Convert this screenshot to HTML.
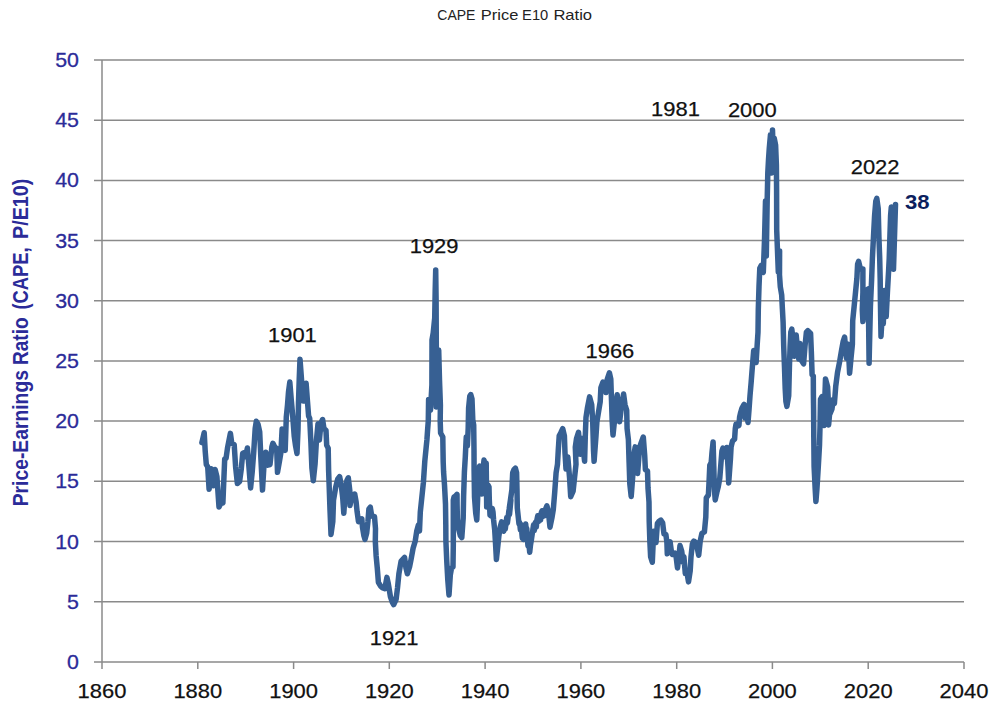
<!DOCTYPE html>
<html><head><meta charset="utf-8"><title>CAPE Price E10 Ratio</title>
<style>
html,body{margin:0;padding:0;background:#fff;}
body{width:1003px;height:706px;overflow:hidden;font-family:"Liberation Sans",sans-serif;}
svg{display:block;font-family:"Liberation Sans",sans-serif;}
</style></head><body>
<svg width="1003" height="706" viewBox="0 0 1003 706">
<rect width="1003" height="706" fill="#fff"/>
<line x1="94" y1="661.9" x2="964" y2="661.9" stroke="#8a8a8a" stroke-width="1.5"/>
<line x1="94" y1="601.7" x2="964" y2="601.7" stroke="#8a8a8a" stroke-width="1.5"/>
<line x1="94" y1="541.5" x2="964" y2="541.5" stroke="#8a8a8a" stroke-width="1.5"/>
<line x1="94" y1="481.3" x2="964" y2="481.3" stroke="#8a8a8a" stroke-width="1.5"/>
<line x1="94" y1="421.1" x2="964" y2="421.1" stroke="#8a8a8a" stroke-width="1.5"/>
<line x1="94" y1="360.9" x2="964" y2="360.9" stroke="#8a8a8a" stroke-width="1.5"/>
<line x1="94" y1="300.8" x2="964" y2="300.8" stroke="#8a8a8a" stroke-width="1.5"/>
<line x1="94" y1="240.6" x2="964" y2="240.6" stroke="#8a8a8a" stroke-width="1.5"/>
<line x1="94" y1="180.4" x2="964" y2="180.4" stroke="#8a8a8a" stroke-width="1.5"/>
<line x1="94" y1="120.2" x2="964" y2="120.2" stroke="#8a8a8a" stroke-width="1.5"/>
<line x1="94" y1="60.0" x2="964" y2="60.0" stroke="#8a8a8a" stroke-width="1.5"/>
<line x1="102" y1="60" x2="102" y2="669" stroke="#8a8a8a" stroke-width="1.5"/>
<line x1="197.8" y1="661.9" x2="197.8" y2="669" stroke="#8a8a8a" stroke-width="1.5"/>
<line x1="293.6" y1="661.9" x2="293.6" y2="669" stroke="#8a8a8a" stroke-width="1.5"/>
<line x1="389.3" y1="661.9" x2="389.3" y2="669" stroke="#8a8a8a" stroke-width="1.5"/>
<line x1="485.1" y1="661.9" x2="485.1" y2="669" stroke="#8a8a8a" stroke-width="1.5"/>
<line x1="580.9" y1="661.9" x2="580.9" y2="669" stroke="#8a8a8a" stroke-width="1.5"/>
<line x1="676.7" y1="661.9" x2="676.7" y2="669" stroke="#8a8a8a" stroke-width="1.5"/>
<line x1="772.4" y1="661.9" x2="772.4" y2="669" stroke="#8a8a8a" stroke-width="1.5"/>
<line x1="868.2" y1="661.9" x2="868.2" y2="669" stroke="#8a8a8a" stroke-width="1.5"/>
<line x1="964.0" y1="661.9" x2="964.0" y2="669" stroke="#8a8a8a" stroke-width="1.5"/>
<text x="67.1" y="668.9" font-size="20.8" fill="#2b2b99" stroke="#2b2b99" stroke-width="0.3" textLength="11.9" lengthAdjust="spacingAndGlyphs">0</text>
<text x="67.1" y="608.7" font-size="20.8" fill="#2b2b99" stroke="#2b2b99" stroke-width="0.3" textLength="11.9" lengthAdjust="spacingAndGlyphs">5</text>
<text x="55.2" y="548.5" font-size="20.8" fill="#2b2b99" stroke="#2b2b99" stroke-width="0.3" textLength="23.8" lengthAdjust="spacingAndGlyphs">10</text>
<text x="55.2" y="488.3" font-size="20.8" fill="#2b2b99" stroke="#2b2b99" stroke-width="0.3" textLength="23.8" lengthAdjust="spacingAndGlyphs">15</text>
<text x="55.2" y="428.1" font-size="20.8" fill="#2b2b99" stroke="#2b2b99" stroke-width="0.3" textLength="23.8" lengthAdjust="spacingAndGlyphs">20</text>
<text x="55.2" y="367.9" font-size="20.8" fill="#2b2b99" stroke="#2b2b99" stroke-width="0.3" textLength="23.8" lengthAdjust="spacingAndGlyphs">25</text>
<text x="55.2" y="307.8" font-size="20.8" fill="#2b2b99" stroke="#2b2b99" stroke-width="0.3" textLength="23.8" lengthAdjust="spacingAndGlyphs">30</text>
<text x="55.2" y="247.6" font-size="20.8" fill="#2b2b99" stroke="#2b2b99" stroke-width="0.3" textLength="23.8" lengthAdjust="spacingAndGlyphs">35</text>
<text x="55.2" y="187.4" font-size="20.8" fill="#2b2b99" stroke="#2b2b99" stroke-width="0.3" textLength="23.8" lengthAdjust="spacingAndGlyphs">40</text>
<text x="55.2" y="127.2" font-size="20.8" fill="#2b2b99" stroke="#2b2b99" stroke-width="0.3" textLength="23.8" lengthAdjust="spacingAndGlyphs">45</text>
<text x="55.2" y="67.0" font-size="20.8" fill="#2b2b99" stroke="#2b2b99" stroke-width="0.3" textLength="23.8" lengthAdjust="spacingAndGlyphs">50</text>
<text x="77.6" y="698.4" font-size="20.6" fill="#111" stroke="#111" stroke-width="0.25" textLength="48.8" lengthAdjust="spacingAndGlyphs">1860</text>
<text x="173.4" y="698.4" font-size="20.6" fill="#111" stroke="#111" stroke-width="0.25" textLength="48.8" lengthAdjust="spacingAndGlyphs">1880</text>
<text x="269.2" y="698.4" font-size="20.6" fill="#111" stroke="#111" stroke-width="0.25" textLength="48.8" lengthAdjust="spacingAndGlyphs">1900</text>
<text x="364.9" y="698.4" font-size="20.6" fill="#111" stroke="#111" stroke-width="0.25" textLength="48.8" lengthAdjust="spacingAndGlyphs">1920</text>
<text x="460.7" y="698.4" font-size="20.6" fill="#111" stroke="#111" stroke-width="0.25" textLength="48.8" lengthAdjust="spacingAndGlyphs">1940</text>
<text x="556.5" y="698.4" font-size="20.6" fill="#111" stroke="#111" stroke-width="0.25" textLength="48.8" lengthAdjust="spacingAndGlyphs">1960</text>
<text x="652.3" y="698.4" font-size="20.6" fill="#111" stroke="#111" stroke-width="0.25" textLength="48.8" lengthAdjust="spacingAndGlyphs">1980</text>
<text x="748.0" y="698.4" font-size="20.6" fill="#111" stroke="#111" stroke-width="0.25" textLength="48.8" lengthAdjust="spacingAndGlyphs">2000</text>
<text x="843.8" y="698.4" font-size="20.6" fill="#111" stroke="#111" stroke-width="0.25" textLength="48.8" lengthAdjust="spacingAndGlyphs">2020</text>
<text x="939.6" y="698.4" font-size="20.6" fill="#111" stroke="#111" stroke-width="0.25" textLength="48.8" lengthAdjust="spacingAndGlyphs">2040</text>
<text x="268.0" y="341.5" font-size="20.6" fill="#111" stroke="#111" stroke-width="0.25" textLength="48.8" lengthAdjust="spacingAndGlyphs">1901</text>
<text x="409.7" y="252.8" font-size="20.6" fill="#111" stroke="#111" stroke-width="0.25" textLength="48.8" lengthAdjust="spacingAndGlyphs">1929</text>
<text x="369.7" y="644.7" font-size="20.6" fill="#111" stroke="#111" stroke-width="0.25" textLength="48.8" lengthAdjust="spacingAndGlyphs">1921</text>
<text x="585.5" y="358.0" font-size="20.6" fill="#111" stroke="#111" stroke-width="0.25" textLength="48.8" lengthAdjust="spacingAndGlyphs">1966</text>
<text x="651.1" y="115.9" font-size="20.6" fill="#111" stroke="#111" stroke-width="0.25" textLength="48.8" lengthAdjust="spacingAndGlyphs">1981</text>
<text x="727.9" y="116.6" font-size="20.6" fill="#111" stroke="#111" stroke-width="0.25" textLength="48.8" lengthAdjust="spacingAndGlyphs">2000</text>
<text x="850.7" y="173.6" font-size="20.6" fill="#111" stroke="#111" stroke-width="0.25" textLength="48.8" lengthAdjust="spacingAndGlyphs">2022</text>
<text x="905.0" y="209" font-size="19.8" font-weight="bold" fill="#0c1f5e" textLength="24.6" lengthAdjust="spacingAndGlyphs">38</text>
<text x="437.3" y="20.3" font-size="14.8" fill="#222" textLength="38.1" lengthAdjust="spacingAndGlyphs">CAPE</text>
<text x="480.8" y="20.3" font-size="14.8" fill="#222" textLength="37.5" lengthAdjust="spacingAndGlyphs">Price</text>
<text x="522.1" y="20.3" font-size="14.8" fill="#222" textLength="26.1" lengthAdjust="spacingAndGlyphs">E10</text>
<text x="553.4" y="20.3" font-size="14.8" fill="#222" textLength="38.7" lengthAdjust="spacingAndGlyphs">Ratio</text>
<g transform="translate(28.4,505.5) rotate(-90)" font-size="22" font-weight="bold" fill="#2b2b99">
<text x="-0.8" y="0" textLength="136.2" lengthAdjust="spacingAndGlyphs">Price-Earnings</text>
<text x="140.4" y="0" textLength="47.7" lengthAdjust="spacingAndGlyphs">Ratio</text>
<text x="195.9" y="0" textLength="62.3" lengthAdjust="spacingAndGlyphs">(CAPE,</text>
<text x="266.5" y="0" textLength="60.4" lengthAdjust="spacingAndGlyphs">P/E10)</text>
</g>
<path d="M201.9,442.6 L202.5,440.0 L204.2,432.7 L205.2,451.1 L206.3,464.5 L207.7,466.7 L209.1,489.3 L211.2,468.8 L213.1,485.8 L215.1,469.5 L216.9,476.6 L219.0,507.0 L221.4,502.1 L222.9,502.8 L224.7,458.9 L226.1,458.2 L227.5,448.0 L230.4,433.4 L231.8,443.3 L234.2,444.7 L235.6,466.7 L237.4,483.6 L239.6,481.5 L241.3,468.8 L242.7,453.2 L244.5,452.5 L245.5,456.7 L247.4,448.0 L248.8,465.2 L250.6,487.9 L252.3,470.9 L253.7,452.5 L255.2,428.4 L256.3,421.3 L258.0,424.2 L259.7,431.9 L260.8,456.7 L262.5,490.0 L263.9,466.7 L265.8,452.2 L267.6,465.2 L270.0,464.5 L271.9,446.8 L272.9,443.3 L275.0,447.5 L276.7,448.2 L277.5,472.3 L279.5,461.0 L280.9,452.5 L282.1,429.1 L283.5,438.3 L285.2,450.4 L286.3,417.1 L287.5,405.0 L288.5,392.0 L289.8,382.0 L291.2,399.0 L292.7,416.0 L294.2,436.0 L295.6,446.0 L297.0,453.5 L298.0,430.0 L298.5,402.0 L299.2,380.0 L300.0,359.2 L301.9,384.7 L303.3,401.0 L306.1,383.2 L307.5,401.7 L308.6,416.0 L309.7,418.4 L310.9,442.5 L311.9,468.0 L313.3,480.7 L315.1,463.7 L316.5,439.7 L318.0,423.8 L319.4,440.0 L321.0,423.0 L322.6,419.5 L323.9,428.3 L326.0,430.5 L326.7,445.3 L328.2,448.2 L328.6,470.0 L329.3,490.0 L330.0,510.0 L331.0,534.4 L332.8,521.7 L333.5,500.4 L335.6,487.7 L337.7,479.2 L339.6,476.6 L341.2,484.8 L342.7,497.6 L343.8,513.2 L345.2,493.3 L346.9,480.6 L348.3,477.8 L349.8,490.5 L350.0,505.4 L351.9,495.4 L354.7,494.0 L356.1,501.8 L357.1,511.7 L358.5,521.7 L360.4,519.5 L361.8,518.8 L362.5,527.3 L363.9,535.8 L365.0,539.4 L366.7,533.0 L367.9,521.7 L368.9,508.9 L370.3,507.2 L371.7,516.0 L374.5,516.7 L375.5,528.7 L375.3,541.2 L376.1,555.4 L377.3,568.2 L378.4,582.3 L380.5,585.9 L382.7,588.0 L384.8,588.7 L386.9,577.4 L388.3,583.7 L390.4,596.5 L392.3,602.1 L393.7,604.7 L396.1,599.3 L397.5,588.0 L398.9,573.8 L401.1,561.1 L404.6,557.5 L406.0,568.2 L407.4,573.8 L409.6,566.7 L411.0,559.7 L413.1,548.3 L415.2,541.2 L416.7,531.3 L418.4,525.0 L419.5,531.0 L420.3,512.0 L421.9,496.7 L423.4,482.5 L424.8,461.2 L426.2,447.1 L426.9,440.0 L427.6,430.0 L428.3,420.8 L428.6,399.6 L430.5,410.2 L431.9,385.0 L432.0,340.0 L433.2,333.0 L434.7,318.0 L435.2,290.0 L435.7,270.0 L436.1,300.0 L436.3,345.0 L436.3,407.0 L437.5,380.0 L438.7,350.0 L439.5,380.0 L440.4,405.0 L440.2,421.0 L440.6,433.0 L442.8,437.0 L443.0,450.0 L443.2,462.0 L443.6,472.0 L444.5,485.0 L445.5,504.0 L445.8,525.0 L445.9,541.0 L446.7,560.0 L447.8,580.0 L449.0,595.0 L450.3,575.0 L451.5,568.0 L453.0,567.0 L453.3,545.0 L453.3,500.0 L454.0,497.0 L455.5,496.0 L457.0,494.3 L457.1,505.0 L457.4,520.0 L458.8,529.6 L460.3,535.5 L461.8,537.5 L463.2,518.0 L463.6,497.0 L464.4,472.0 L465.3,457.0 L466.0,442.0 L466.3,437.0 L467.4,446.0 L468.2,428.0 L468.6,408.0 L469.8,396.0 L470.8,394.6 L472.0,399.0 L472.8,420.0 L473.7,425.0 L474.0,450.0 L474.1,470.0 L474.5,497.0 L475.7,513.0 L476.8,520.0 L477.6,500.0 L478.3,470.0 L479.7,466.0 L480.8,480.0 L481.7,494.0 L482.8,472.0 L484.0,460.0 L485.2,466.0 L486.2,463.0 L486.5,490.0 L486.7,507.0 L487.1,495.0 L488.0,485.0 L489.0,487.0 L489.3,500.0 L490.0,515.0 L491.3,516.0 L492.3,508.5 L493.0,512.0 L493.6,520.0 L494.7,530.0 L495.5,543.0 L496.4,559.4 L498.8,536.7 L500.2,527.0 L501.6,521.9 L502.6,528.5 L503.7,531.1 L504.6,523.5 L505.3,529.0 L505.9,524.0 L506.8,517.5 L507.4,523.0 L508.0,518.3 L508.9,510.5 L509.5,514.5 L510.1,508.4 L510.9,500.0 L509.3,508.0 L510.6,499.0 L511.9,489.6 L512.7,472.7 L513.9,469.7 L515.4,468.2 L516.6,472.7 L517.0,489.6 L517.3,508.0 L519.0,524.0 L519.6,522.6 L520.4,530.0 L521.0,524.5 L521.4,528.2 L522.3,538.0 L522.9,531.5 L523.6,539.6 L524.5,533.0 L525.7,524.0 L526.3,533.0 L526.8,528.5 L527.1,536.7 L528.0,546.0 L528.6,540.5 L529.7,552.3 L530.5,545.0 L531.4,539.6 L533.5,525.1 L534.3,530.5 L535.0,523.5 L535.6,522.2 L536.3,527.0 L537.0,519.5 L537.7,515.9 L538.5,521.5 L539.2,515.5 L539.8,516.6 L540.6,520.0 L541.3,512.5 L542.0,510.9 L542.8,516.5 L543.5,510.5 L544.1,512.3 L545.0,515.5 L545.8,508.5 L546.9,505.9 L548.3,510.9 L550.0,527.2 L551.9,518.0 L553.3,509.5 L554.7,492.5 L556.1,472.7 L557.5,464.2 L558.3,450.0 L559.2,435.8 L560.7,433.0 L562.7,428.7 L564.4,435.8 L565.0,452.8 L566.0,469.0 L567.8,457.0 L569.6,478.3 L570.7,496.7 L573.1,491.1 L574.5,478.3 L576.0,464.2 L575.3,447.1 L576.5,438.6 L578.5,432.3 L580.4,454.2 L582.1,438.6 L584.6,461.3 L585.3,435.8 L586.0,417.4 L587.5,407.5 L589.6,396.9 L591.7,404.7 L592.7,421.7 L593.5,450.0 L594.1,461.3 L596.0,435.8 L596.9,421.7 L598.1,414.6 L600.2,401.8 L600.9,387.7 L603.0,382.0 L604.5,383.4 L605.9,392.6 L607.3,379.2 L609.4,372.8 L610.8,379.2 L611.5,400.4 L612.2,421.7 L613.0,435.1 L614.4,421.7 L615.1,407.5 L617.2,394.8 L618.6,407.5 L619.6,421.7 L621.4,407.5 L623.6,394.0 L625.0,404.7 L626.7,410.3 L627.1,428.7 L628.4,439.8 L629.1,462.5 L629.8,483.7 L631.2,496.5 L632.7,476.7 L633.8,455.4 L635.2,446.9 L636.2,462.5 L637.6,473.5 L639.0,455.4 L639.8,446.9 L641.2,442.7 L643.3,437.0 L644.7,455.4 L645.4,469.6 L647.5,471.0 L648.0,488.0 L649.0,502.1 L649.2,521.2 L649.9,542.5 L650.6,556.7 L652.3,562.3 L653.7,531.2 L656.0,542.5 L657.4,523.4 L659.1,521.2 L660.8,520.1 L662.6,522.7 L664.0,534.0 L665.9,534.7 L666.9,542.5 L667.3,553.8 L668.3,543.9 L670.1,541.8 L671.5,552.4 L672.5,554.5 L674.7,553.1 L676.1,556.7 L677.5,568.0 L678.9,556.7 L680.0,545.6 L681.7,551.0 L683.2,562.3 L683.9,556.7 L685.3,573.6 L686.7,570.8 L688.5,581.9 L690.2,570.8 L691.0,556.7 L692.4,543.9 L693.8,541.1 L695.9,542.5 L697.3,548.2 L698.7,555.2 L700.2,541.1 L701.9,533.3 L704.4,531.9 L705.8,517.0 L706.3,497.8 L708.4,495.0 L709.1,480.8 L709.8,465.2 L711.2,462.4 L712.0,452.5 L713.1,441.9 L713.8,466.7 L714.4,489.3 L715.2,499.9 L716.9,492.1 L718.3,486.5 L719.8,478.0 L720.9,463.8 L721.9,451.1 L722.9,448.2 L724.7,456.7 L726.8,447.5 L728.0,466.7 L728.7,482.9 L730.4,459.6 L731.1,446.8 L732.5,441.2 L734.6,439.0 L735.3,428.4 L736.0,424.2 L737.5,426.0 L738.9,425.6 L739.6,417.1 L740.5,413.0 L742.0,408.0 L744.1,404.3 L745.0,418.0 L746.5,411.0 L748.0,422.5 L749.0,410.0 L750.0,395.8 L751.2,381.7 L752.3,367.5 L753.7,350.5 L756.1,362.5 L757.1,346.2 L758.0,332.1 L758.3,309.3 L759.0,286.7 L759.8,268.2 L761.2,265.4 L763.3,272.5 L764.5,240.0 L765.5,201.0 L766.3,256.0 L767.2,200.0 L767.8,173.0 L768.5,160.0 L769.3,148.0 L770.5,134.6 L771.5,173.0 L772.5,130.0 L773.2,152.0 L774.2,138.0 L775.6,145.0 L776.4,165.0 L776.6,190.0 L776.7,230.0 L777.5,251.0 L778.3,272.0 L779.6,251.0 L779.5,275.0 L780.3,286.7 L781.7,295.0 L782.4,309.0 L783.1,322.0 L783.7,346.2 L784.5,367.5 L785.2,388.7 L785.9,401.5 L786.9,406.4 L788.7,395.8 L789.4,367.5 L790.1,346.2 L790.8,332.1 L791.8,329.2 L793.0,339.2 L794.4,356.2 L795.1,346.2 L796.2,334.9 L797.6,350.5 L798.8,359.0 L800.0,343.4 L801.4,360.4 L803.6,363.9 L805.0,346.2 L806.4,332.1 L807.8,330.7 L810.6,333.5 L811.4,353.3 L812.1,374.6 L813.3,376.0 L813.4,395.0 L813.6,410.0 L813.8,438.0 L814.1,466.7 L815.2,489.3 L815.9,501.4 L816.9,489.3 L818.3,466.7 L819.5,445.4 L820.0,427.0 L820.3,410.0 L820.5,399.4 L822.0,396.6 L823.9,425.6 L825.5,378.9 L827.6,386.7 L828.3,400.0 L828.6,424.9 L829.5,415.0 L831.9,409.3 L833.3,399.4 L834.4,403.6 L835.7,386.7 L837.5,372.5 L839.7,361.2 L841.4,351.2 L843.2,341.3 L844.6,337.1 L846.5,358.3 L848.2,344.2 L849.6,373.2 L851.0,358.3 L852.4,344.2 L852.7,320.8 L854.1,306.7 L855.5,292.5 L856.9,278.3 L857.6,264.2 L858.6,261.3 L860.5,269.1 L862.9,269.1 L862.9,292.5 L862.3,309.5 L862.9,321.5 L865.1,296.7 L867.1,289.7 L868.2,288.9 L869.1,363.3 L870.4,306.7 L871.6,280.0 L872.4,258.0 L873.5,236.7 L874.6,215.4 L875.8,201.2 L876.8,198.4 L878.2,208.3 L878.9,236.7 L879.7,258.0 L880.2,280.0 L880.4,300.0 L880.7,320.0 L881.0,336.4 L882.4,312.3 L883.3,323.7 L884.5,290.4 L886.2,316.6 L887.4,292.5 L888.6,271.0 L889.2,259.0 L889.9,236.7 L890.6,215.4 L891.3,206.9 L892.2,207.6 L893.5,269.2 L895.5,204.4" fill="none" stroke="#376093" stroke-width="5.5" stroke-linejoin="round" stroke-linecap="round"/>
</svg>
</body></html>
